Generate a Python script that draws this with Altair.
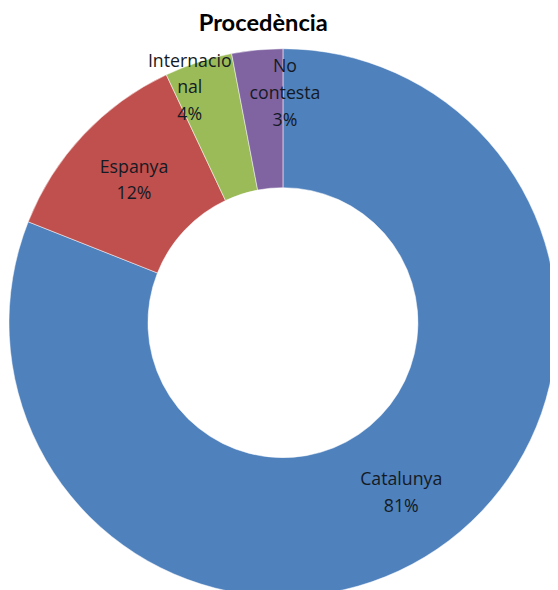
import altair as alt
import pandas as pd

categories = ["Catalunya", "Espanya", "Internacional", "No contesta"]
values = [81, 12, 4, 3]
label_lines = ["Catalunya", "Espanya", "Internacio\nnal", "No\ncontesta"]
colors = ["#4F81BD", "#C0504D", "#9BBB59", "#8064A2"]

df = pd.DataFrame({
    "cat": categories,
    "value": values,
    "idx": list(range(len(categories))),
    "label": [f"{l}\n{v}%" for l, v in zip(label_lines, values)],
})

CX, CY = 279, 285
LH = 27

theta = alt.Theta("value:Q", stack=True)
order = alt.Order("idx:Q", sort="ascending")

arcs = alt.Chart(df).mark_arc(radius=278, radius2=137, stroke="white", strokeWidth=0.5).encode(
    theta=theta,
    order=order,
    color=alt.Color("cat:N", scale=alt.Scale(domain=categories, range=colors), legend=None),
    x=alt.value(CX),
    y=alt.value(CY),
)

def labels(test, radius, nlines, dx=0, dy=0):
    return alt.Chart(df).mark_text(
        radius=radius, dx=dx, dy=dy - (nlines - 1) * LH / 2, font="Open Sans", fontSize=18,
        lineBreak="\n", lineHeight=LH, color="#141a24", align="center", baseline="middle",
    ).encode(
        theta=theta,
        order=order,
        x=alt.value(CX),
        y=alt.value(CY),
        text=alt.condition(test, alt.Text("label:N"), alt.value("")),
    )

main = labels("datum.cat == 'Catalunya' || datum.cat == 'Espanya'", 210, 2, dx=2)
intl = labels("datum.cat == 'Internacional'", 251, 3, dx=-17, dy=1)
noc = labels("datum.cat == 'No contesta'", 233, 3, dx=24, dy=0)

chart = alt.layer(arcs, main, intl, noc).properties(
    width=550,
    height=552,
    padding={"left": 0, "top": 30, "right": 0, "bottom": 0},
    autosize="none",
    title=alt.TitleParams("Procedència", font="Lato", fontSize=24, fontWeight="bold",
                          color="#000000", anchor="middle", dx=-16, offset=6),
).configure_view(stroke=None)

chart.save("out.html", embed_options={"renderer": "svg", "actions": False})
